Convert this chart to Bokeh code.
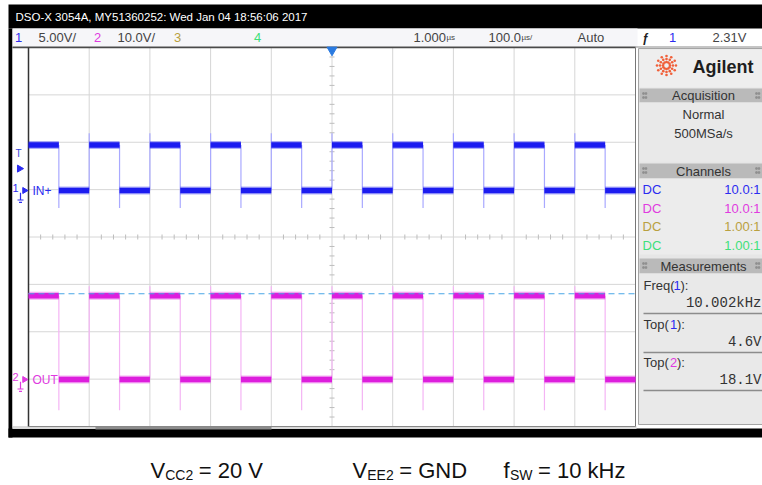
import numpy as np
from bokeh.plotting import figure
from bokeh.models import Range1d, Label
from bokeh.embed import file_html
from bokeh.resources import INLINE

header_title = "DSO-X 3054A, MY51360252: Wed Jan 04 18:56:06 2017"
time_per_div_us = 100.0
horizontal_divs = 10
vertical_divs = 8
grid_times_us = [-500, -400, -300, -200, -100, 0, 100, 200, 300, 400, 500]
grid_divs = [-4, -3, -2, -1, 0, 1, 2, 3, 4]

ch1_scale_v = 5.0          # V/div
ch2_scale_v = 10.0         # V/div
ch1_rising_us = [-400, -300, -200, -100, 0, 100, 200, 300, 400]
ch1_falling_us = [-450, -350, -250, -150, -50, 50, 150, 250, 350, 450]
ch2_rising_us = [-400, -300, -200, -100, 0, 100, 200, 300, 400]
ch2_falling_us = [-450, -350, -250, -150, -50, 50, 150, 250, 350, 450]
ch1_high_v, ch1_low_v = 4.8, 0.0
ch2_high_v, ch2_low_v = 17.7, 0.0
trigger_level_v = 2.31
top2_marker_v = 18.1

channel_numbers = ["1", "2", "3", "4"]
channel_colors = ["#2b2bf0", "#e03ae0", "#b9a040", "#3ee07a"]
channel_couplings = ["DC", "DC", "DC", "DC"]
channel_ratios = ["10.0:1", "10.0:1", "1.00:1", "1.00:1"]
channel_scale_texts = ["5.00V/", "10.0V/"]
delay_text = "1.000"
timebase_text = "100.0"
trigger_mode = "Auto"
trigger_text = "2.31V"
acq_mode = "Normal"
acq_rate = "500MSa/s"
meas_names = ["Freq", "Top", "Top"]
meas_sources = ["1", "1", "2"]
meas_values = ["10.002kHz", "4.6V", "18.1V"]
ch1_label = "IN+"
ch2_label = "OUT"
caption_parts = [("V", "CC2", "= 20 V"), ("V", "EE2", "= GND"), ("f", "SW", "= 10 kHz")]

# ---------------- layout (reference pixel frame) ----------------
W, H = 762, 485
X0, Y0 = 0, 0
X1, Y1 = X0 + W, Y0 + H
PL, PR, PT, PB = 28, 635, 47, 426
CH1_GND_Y, CH2_GND_Y = 190, 379

p = figure(width=W, height=H, x_range=Range1d(X0, X1), y_range=Range1d(Y1, Y0),
           output_backend="svg", toolbar_location=None, min_border=0,
           x_axis_location=None, y_axis_location=None)
p.grid.visible = False
p.outline_line_color = None
p.background_fill_color = "white"
p.border_fill_color = "white"

px_per_us = (PR - PL) / (horizontal_divs * time_per_div_us)
t_left = -horizontal_divs / 2 * time_per_div_us
px_per_div = (PB - PT) / vertical_divs
cy = (PT + PB) / 2
p.extra_x_ranges = {"time": Range1d(t_left - (PL - X0) / px_per_us, t_left + (X1 - PL) / px_per_us)}
p.extra_y_ranges = {
    "div": Range1d((cy - Y1) / px_per_div, (cy - Y0) / px_per_div),
    "ch1": Range1d((CH1_GND_Y - Y1) / px_per_div * ch1_scale_v, (CH1_GND_Y - Y0) / px_per_div * ch1_scale_v),
    "ch2": Range1d((CH2_GND_Y - Y1) / px_per_div * ch2_scale_v, (CH2_GND_Y - Y0) / px_per_div * ch2_scale_v),
}


def box(l, r, t, b, fill, line=None, lw=1):
    p.quad(left=[l], right=[r], top=[t], bottom=[b], fill_color=fill,
           line_color=line, line_width=lw)


def lab(x, y, text, size=13, color="#333333", font="Liberation Sans", align="left",
        baseline="middle", style="normal", y_range_name="default"):
    p.add_layout(Label(x=x, y=y, text=text, text_font=font, text_font_size=f"{size}px",
                       text_color=color, text_align=align, text_baseline=baseline,
                       text_font_style=style, y_range_name=y_range_name))


# ---------------- frame ----------------
box(8, X1, 4, 28, "black")
box(8, 12, 28, 437, "black")
box(8, X1, 428, 437, "black")
box(12, 637, 28, 46.5, "#f6f6f9")
p.segment(x0=[12], y0=[46.5], x1=[X1], y1=[46.5], line_color="#8a8a8a", line_width=1)
box(12, PL, PT, PB, "white")
box(12, 636, 425.5, 428.5, "#d9d9d9")
box(95, 271, 425.5, 429, "#8c8c8c")

# ---------------- grid ----------------
p.segment(x0=grid_times_us, y0=[-4] * len(grid_times_us), x1=grid_times_us, y1=[4] * len(grid_times_us),
          x_range_name="time", y_range_name="div", line_color="#d6d6d6", line_width=1)
p.segment(x0=[-500] * len(grid_divs), y0=grid_divs, x1=[500] * len(grid_divs), y1=grid_divs,
          x_range_name="time", y_range_name="div", line_color="#d6d6d6", line_width=1)
minor_d = [k * 0.2 for k in range(-20, 21) if k % 5 != 0]
hw = 2.5 / px_per_us
p.segment(x0=[-hw] * len(minor_d), y0=minor_d, x1=[hw] * len(minor_d), y1=minor_d,
          x_range_name="time", y_range_name="div", line_color="#bdbdbd", line_width=1)
minor_t = [k * 20 for k in range(-25, 26) if k % 5 != 0]
hd = 2.5 / px_per_div
p.segment(x0=minor_t, y0=[-hd] * len(minor_t), x1=minor_t, y1=[hd] * len(minor_t),
          x_range_name="time", y_range_name="div", line_color="#bdbdbd", line_width=1)

# plot borders
p.segment(x0=[12], y0=[PT], x1=[PR], y1=[PT], line_color="#4a4a4a", line_width=1.5)
p.segment(x0=[PL], y0=[PT], x1=[PL], y1=[PB], line_color="#333333", line_width=1.5)
p.segment(x0=[PR], y0=[PT], x1=[PR], y1=[PB], line_color="#777777", line_width=1)
p.segment(x0=[PL], y0=[PB], x1=[PR], y1=[PB], line_color="#888888", line_width=1)


# ---------------- waveforms ----------------
def levels(rising, falling, high, low):
    edges = sorted([(t, 1) for t in rising] + [(t, 0) for t in falling])
    state = 1 - edges[0][1]
    bounds = [t_left] + [e[0] for e in edges] + [-t_left]
    x0s, x1s, ys = [], [], []
    for i in range(len(bounds) - 1):
        x0s.append(bounds[i]); x1s.append(bounds[i + 1])
        ys.append(high if state else low)
        if i < len(edges):
            state = edges[i][1]
    return x0s, x1s, ys


def draw_channel(rising, falling, high, low, scale, rng, col, edge_col, over_div, under_div):
    p.segment(x0=rising, y0=[low] * len(rising), x1=rising, y1=[high + over_div * scale] * len(rising),
              x_range_name="time", y_range_name=rng, line_color=edge_col, line_width=1.2)
    p.segment(x0=falling, y0=[high] * len(falling), x1=falling, y1=[low - under_div * scale] * len(falling),
              x_range_name="time", y_range_name=rng, line_color=edge_col, line_width=1.2)
    x0s, x1s, ys = levels(rising, falling, high, low)
    p.segment(x0=x0s, y0=ys, x1=x1s, y1=ys, x_range_name="time", y_range_name=rng,
              line_color=col, line_width=8, line_alpha=0.35)
    p.segment(x0=x0s, y0=ys, x1=x1s, y1=ys, x_range_name="time", y_range_name=rng,
              line_color=col, line_width=5.5)


draw_channel(ch1_rising_us, ch1_falling_us, ch1_high_v, ch1_low_v, ch1_scale_v, "ch1",
             "#1c1cf0", "#a9a9ff", 0.25, 0.37)
draw_channel(ch2_rising_us, ch2_falling_us, ch2_high_v, ch2_low_v, ch2_scale_v, "ch2",
             "#dd1edd", "#f4b4f4", 0.2, 0.65)

# Top(2) measurement marker
p.segment(x0=[t_left], y0=[top2_marker_v], x1=[-t_left], y1=[top2_marker_v],
          x_range_name="time", y_range_name="ch2", line_color="#4aa6e6", line_width=1.2,
          line_dash="6 4")

# trigger position marker
p.scatter(x=[0], y=[PT + 2.5], x_range_name="time", marker="inverted_triangle", size=10,
          fill_color="#2a7ae0", line_color="#2a7ae0")

# ---------------- left markers ----------------
lab(18, 153, "T", size=10, color="#3344dd", align="center")
p.scatter(x=[19], y=[trigger_level_v], y_range_name="ch1", marker="triangle", angle=-np.pi / 2,
          size=7, fill_color="#2b2bf0", line_color="#2b2bf0")
for num, gnd, col, txt, rng, sc in [("1", ch1_low_v, "#2b2bf0", ch1_label, "ch1", ch1_scale_v),
                                    ("2", ch2_low_v, "#e03ae0", ch2_label, "ch2", ch2_scale_v)]:
    lab(15, gnd + 0.05 * sc, num, size=11, color=col, align="center", y_range_name=rng)
    p.scatter(x=[24], y=[gnd], y_range_name=rng, marker="triangle", angle=-np.pi / 2,
              size=6, fill_color=col, line_color=col)
    lab(32, gnd, txt, size=12, color=col, y_range_name=rng)
    p.segment(x0=[20, 17, 18.5], y0=[gnd - 0.05 * sc, gnd - 0.2 * sc, gnd - 0.25 * sc],
              x1=[20, 23, 21.5], y1=[gnd - 0.2 * sc, gnd - 0.2 * sc, gnd - 0.25 * sc],
              y_range_name=rng, line_color=col, line_width=1.2)

# ---------------- header texts ----------------
lab(15, 16.5, header_title, size=11.5, color="white", font="Liberation Sans")
lab(18, 37, channel_numbers[0], size=13, color=channel_colors[0], align="center")
lab(38, 37, channel_scale_texts[0], size=13, color="#444444")
lab(97, 37, channel_numbers[1], size=13, color=channel_colors[1], align="center")
lab(117, 37, channel_scale_texts[1], size=13, color="#444444")
lab(177, 37, channel_numbers[2], size=13, color=channel_colors[2], align="center")
lab(257, 37, channel_numbers[3], size=13, color=channel_colors[3], align="center")
lab(413, 37, delay_text, size=13, color="#444444")
lab(446, 37, "µs", size=8, color="#444444")
lab(488, 37, timebase_text, size=13, color="#444444")
lab(521, 37, "µs/", size=8, color="#444444")
lab(577, 37, trigger_mode, size=13, color="#444444")
lab(645, 37, "\u0192", size=12, color="#222222", align="center", style="bold")
lab(672, 37, channel_numbers[0], size=13, color=channel_colors[0], align="center")
lab(712, 37, trigger_text, size=13, color="#444444")

# ---------------- right panel ----------------
box(638, X1 + 4, 48, 424, "#e6e6e6", "#a5a5a5")
box(639, X1 + 4, 49, 87, "#eeeeee")
for top, bot, title in [(88, 102, "Acquisition"), (163, 178, "Channels"), (258, 273, "Measurements")]:
    box(639, X1 + 4, top, bot, "#bababa")
    lab(703, (top + bot) / 2, title, size=13, color="#333333", align="center")
    for gx in (643, X1 - 6):
        p.scatter(x=[gx, gx + 2.5, gx, gx + 2.5], y=[top + 5, top + 5, top + 9, top + 9],
                  marker="square", size=1.5, color="#8f8f8f")
box(639, X1 + 4, 102, 161, "#e9e9e9")
box(639, X1 + 4, 178, 254, "#ececec")
box(639, X1 + 4, 273, 423, "#e9e9e9")

# logo
ang = np.linspace(0, 2 * np.pi, 12, endpoint=False)
lx, ly = [], []
for r in (3.5, 6.5, 9.5):
    lx += list(666 + r * np.cos(ang)); ly += list(65 + r * np.sin(ang))
p.scatter(x=lx, y=ly, marker="circle", size=2.6, color="#f0603a", line_color=None)
lab(692, 66, "Agilent", size=18, color="#1e1e1e", style="bold")

lab(703, 114, acq_mode, size=13, color="#333333", align="center")
lab(703, 133, acq_rate, size=13, color="#333333", align="center")

for i, (cpl, ratio, col) in enumerate(zip(channel_couplings, channel_ratios, channel_colors)):
    y = 189 + i * 18.7
    lab(642, y, cpl, size=13, color=col)
    lab(760, y, ratio, size=13, color=col, align="right")

meas_rows = [285, 324, 362]
for name, src, val, y in zip(meas_names, meas_sources, meas_values, meas_rows):
    lab(643, y, name + "(", size=13, color="#333333")
    off = 30 if name == "Freq" else 26.5
    col = channel_colors[int(src) - 1]
    lab(643 + off, y, src, size=13, color=col)
    lab(643 + off + 7, y, "):", size=13, color="#333333")
    lab(761, y + 17.5, val, size=14, color="#333333", font="Liberation Mono", align="right")
    p.segment(x0=[643], y0=[y + 28], x1=[X1], y1=[y + 28], line_color="#8c8c8c", line_width=1.5)

# ---------------- caption ----------------
BASE = 470
BIG, SUB = 22, 14
for x, (big, sub, rest) in zip([150, 352, 503], caption_parts):
    lab(x, BASE, big, size=BIG, color="#111111", baseline="alphabetic")
    bw = 14.7 if big == "V" else 6.5
    lab(x + bw, BASE + 4, sub, size=SUB, color="#111111", baseline="alphabetic")
    sw = {"CC2": 28.5, "EE2": 27, "SW": 23}[sub]
    lab(x + bw + sw + 5, BASE, rest, size=BIG, color="#111111", baseline="alphabetic")

open("out.html", "w").write(file_html(p, INLINE))
